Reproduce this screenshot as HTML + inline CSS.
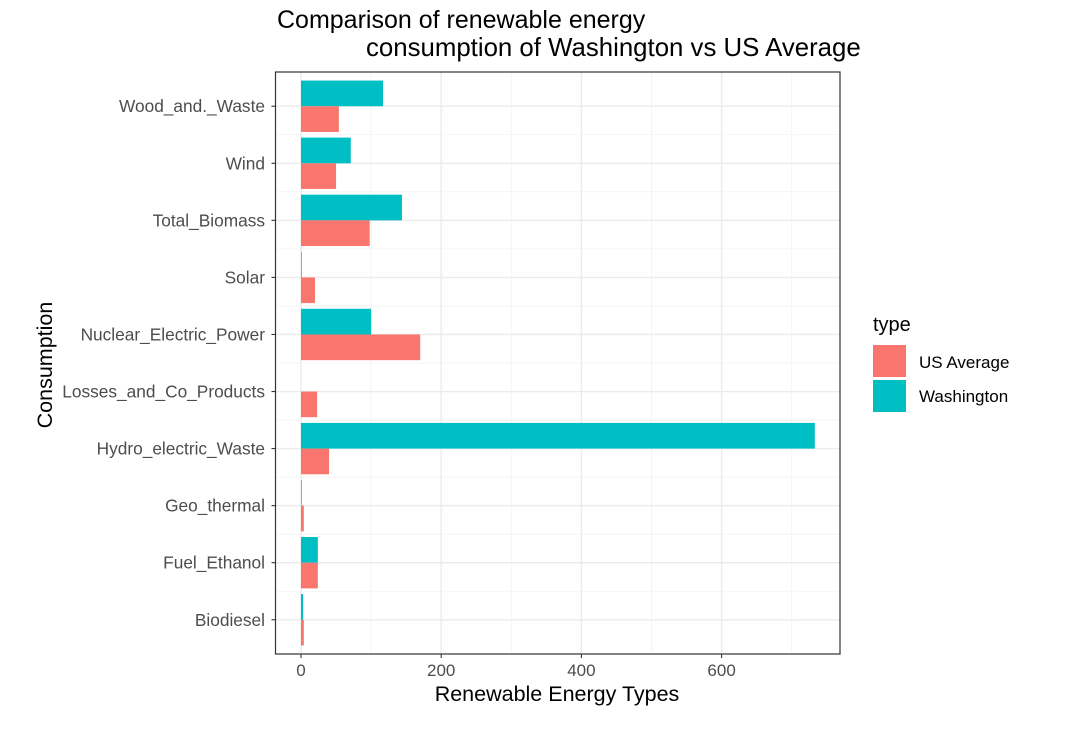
<!DOCTYPE html>
<html><head><meta charset="utf-8"><style>
body{margin:0;background:#fff;}
svg text{font-family:"Liberation Sans",Arial,sans-serif;}
</style></head><body>
<svg id="c" width="1072" height="724" xmlns="http://www.w3.org/2000/svg">
<text x="277" y="28" font-size="25" fill="#000">Comparison of renewable energy</text>
<text x="366" y="56" font-size="25.8" fill="#000">consumption of Washington vs US Average</text>
<g id="grid"></g><g id="bars"></g><g id="axes"></g>
<text x="557" y="701" font-size="21.5" text-anchor="middle" fill="#000">Renewable Energy Types</text>
<text transform="translate(52,365) rotate(-90)" font-size="21.5" text-anchor="middle" fill="#000">Consumption</text>
<g>
<text x="873" y="331" font-size="20" fill="#000">type</text>
<rect x="873" y="345" width="33" height="32" fill="#F8766D"/>
<text x="919" y="368" font-size="17" fill="#000">US Average</text>
<rect x="873" y="380" width="33" height="32" fill="#00BFC4"/>
<text x="919" y="402" font-size="17" fill="#000">Washington</text>
</g>
</svg>
<script>
const categories=["Wood_and._Waste","Wind","Total_Biomass","Solar","Nuclear_Electric_Power","Losses_and_Co_Products","Hydro_electric_Waste","Geo_thermal","Fuel_Ethanol","Biodiesel"];
const usAverage=[54,50,98,20,170,23,40,4,24,4];
const washington=[117,71,144,1,100,0,733,1,24,3];
const xTicks=[0,200,400,600];
const xMinor=[100,300,500,700];
const NS="http://www.w3.org/2000/svg";
const L=275.5,R=840,T=72,B=654;
const x0=301,k=0.701;
const X=v=>x0+v*k;
const step=(B-T)/(categories.length+0.2);
const Y=i=>T+(0.6+i)*step;
function mk(tag,attrs,parent){const e=document.createElementNS(NS,tag);for(const a in attrs)e.setAttribute(a,attrs[a]);parent.appendChild(e);return e;}
const grid=document.getElementById('grid'),bars=document.getElementById('bars'),axes=document.getElementById('axes');
mk('rect',{x:L,y:T,width:R-L,height:B-T,fill:'#fff'},grid);
xMinor.forEach(v=>{const l=mk('line',{x1:X(v),x2:X(v),y1:T,y2:B,stroke:'#F2F2F2','stroke-width':0.8},grid);

});
for(let i=0;i<categories.length-1;i++){const y=(Y(i)+Y(i+1))/2;const l=mk('line',{x1:L,x2:R,y1:y,y2:y,stroke:'#F2F2F2','stroke-width':0.8},grid);

}
xTicks.forEach(v=>{const l=mk('line',{x1:X(v),x2:X(v),y1:T,y2:B,stroke:'#EBEBEB','stroke-width':1.4},grid);

});
categories.forEach((c,i)=>{const l=mk('line',{x1:L,x2:R,y1:Y(i),y2:Y(i),stroke:'#EBEBEB','stroke-width':1.4},grid);

});
const bh=step*0.45;
categories.forEach((c,i)=>{
 const w=washington[i],u=usAverage[i];
 const b1=mk('rect',{x:Math.min(X(0),X(w)),y:Y(i)-bh,width:Math.abs(X(w)-X(0)),height:bh,fill:'#00BFC4'},bars);
 
 
 const b2=mk('rect',{x:Math.min(X(0),X(u)),y:Y(i),width:Math.abs(X(u)-X(0)),height:bh,fill:'#F8766D'},bars);
 
 
 const t=mk('text',{x:265,y:Y(i)+6,'font-size':17.3,'text-anchor':'end',fill:'#4D4D4D'},axes);
 t.textContent=c;
 
 
 mk('line',{x1:L-4,x2:L,y1:Y(i),y2:Y(i),stroke:'#333','stroke-width':1.1},axes);
});
xTicks.forEach(v=>{
 mk('line',{x1:X(v),x2:X(v),y1:B,y2:B+4,stroke:'#333','stroke-width':1.1},axes);
 const t=mk('text',{x:X(v),y:B+22,'font-size':17,'text-anchor':'middle',fill:'#4D4D4D'},axes);
 t.textContent=v;
 
 
});
const fr=mk('rect',{x:L,y:T,width:R-L,height:B-T,fill:'none',stroke:'#333','stroke-width':1.2},axes);


</script>
</body></html>
